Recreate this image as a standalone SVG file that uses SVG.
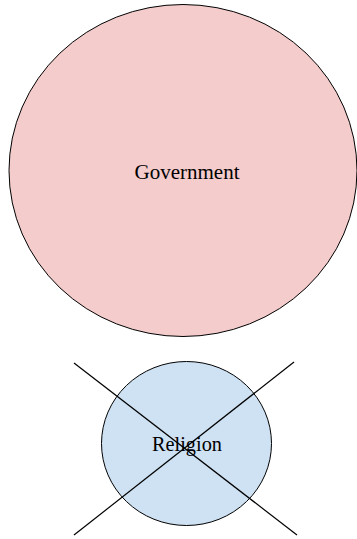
<svg xmlns="http://www.w3.org/2000/svg" width="357" height="539" viewBox="0 0 357 539">
<style>
.shape{stroke:#000;stroke-width:1}
.lbl{font-family:"Liberation Serif","Times New Roman",serif;fill:#000;text-anchor:middle}
.conn{stroke:#000;stroke-width:1.2;fill:none}
</style>
<rect width="357" height="539" fill="#fff"/>
<g id="government">
<ellipse class="shape" cx="183" cy="170.5" rx="174" ry="166" fill="#f4cccc"/>
<text class="lbl" x="187" y="179" font-size="21">Government</text>
</g>
<g id="religion">
<ellipse class="shape" cx="186.5" cy="443.5" rx="85" ry="82" fill="#cfe2f3"/>
<text class="lbl" x="187" y="451" font-size="20.3">Religion</text>
</g>
<g id="connectors">
<line class="conn" x1="74" y1="363" x2="297" y2="535"/>
<line class="conn" x1="294" y1="362" x2="74" y2="535"/>
</g>
</svg>
